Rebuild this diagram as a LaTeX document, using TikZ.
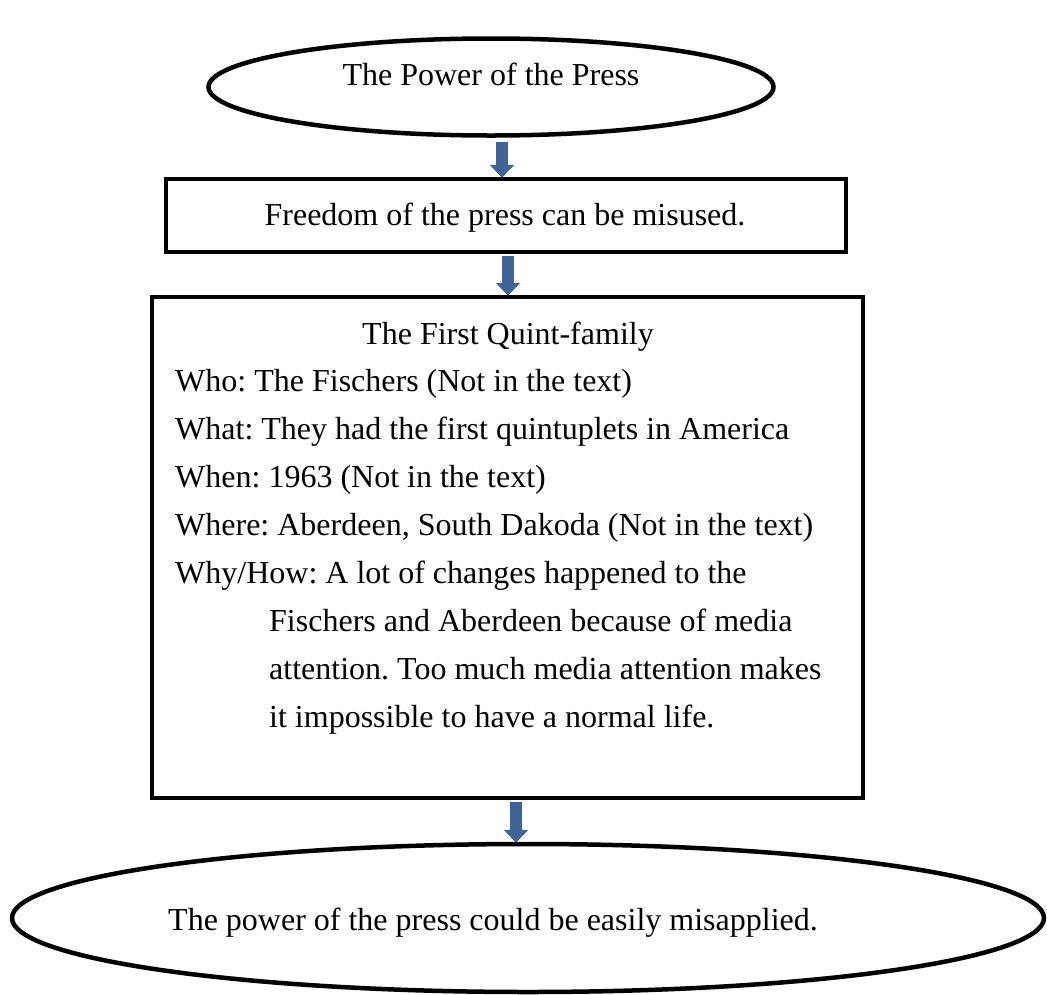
\documentclass[tikz,border=0pt]{standalone}
\usepackage{fontspec}
\setmainfont{Liberation Serif}
\usetikzlibrary{shapes.geometric,arrows.meta}
\definecolor{arrowblue}{RGB}{65,100,150}
\frenchspacing
\tikzset{
  oval/.style={draw=black, line width=4.5pt, ellipse, inner sep=0pt},
  boxnode/.style={draw=black, line width=4.5pt, rectangle, inner sep=0pt},
  txt/.style={font={\fontsize{32}{48}\selectfont}, inner sep=0pt},
  blockarrow/.style={draw=arrowblue, line width=12pt,
    -{Triangle[width=24pt,length=13pt]}, shorten >=-1pt},
}
\begin{document}
\begin{tikzpicture}[x=1pt,y=-1pt]
\useasboundingbox (0,0) rectangle (1047,994);
% shapes
\node[oval, minimum width=565pt, minimum height=97pt] (top) at (491,87) {};
\node[boxnode, minimum width=680pt, minimum height=73pt] (b1) at (506,215.5) {};
\node[boxnode, minimum width=711pt, minimum height=501pt] (b2) at (507.5,547.5) {};
\node[oval, minimum width=1032pt, minimum height=148pt] (bot) at (528,918) {};
% texts
\node[txt, anchor=base] (ttop) at (491,85) {The Power of the Press};
\node[txt, anchor=base] (tb1) at (505,225) {Freedom of the press can be misused.};
\node[txt, anchor=base] (tb2) at (508,344) {The First Quint-family};
\node[txt, anchor=north west, align=left] (body) at (175,369) {%
Who: The Fischers (Not in the text)\\
What: They had the first quintuplets in America\\
When: 1963 (Not in the text)\\
Where: Aberdeen, South Dakoda (Not in the text)\\
Why/How: A lot of changes happened to the\\
\hspace*{94pt}Fischers and Aberdeen because of media\\
\hspace*{94pt}attention. Too much media attention makes\\
\hspace*{94pt}it impossible to have a normal life.};
\node[txt, anchor=base] (tbot) at (493,930) {The power of the press could be easily misapplied.};
% arrows
\draw[blockarrow] ([xshift=11pt,yshift=-4pt]top.south) -- ([xshift=-4pt]b1.north);
\draw[blockarrow] ([xshift=2pt,yshift=-2pt]b1.south) -- ([xshift=0.5pt]b2.north);
\draw[blockarrow] ([xshift=8.5pt,yshift=-2pt]b2.south) -- ([xshift=-12pt]bot.north);
\end{tikzpicture}
\end{document}
